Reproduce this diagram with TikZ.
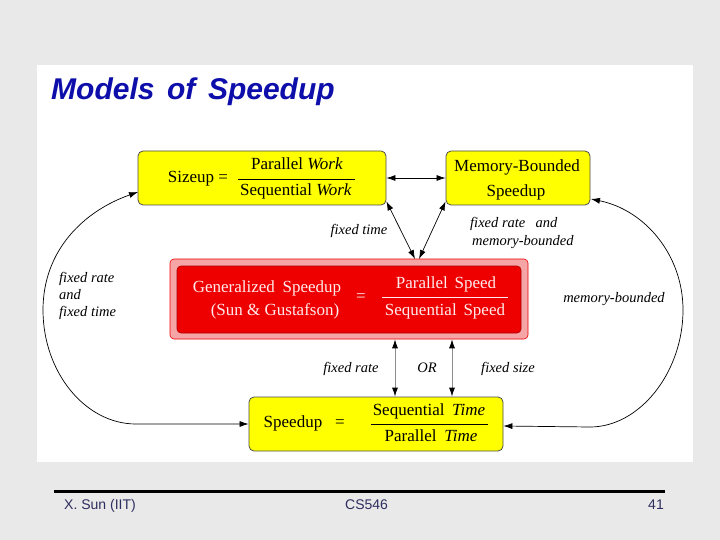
\documentclass[tikz,border=0pt]{standalone}
\usepackage{fontspec}
\setmainfont{Liberation Serif}
\setsansfont{Liberation Sans}
\usetikzlibrary{arrows.meta}
\definecolor{bgc}{RGB}{233,233,233}
\definecolor{ttl}{RGB}{14,14,170}
\definecolor{footc}{RGB}{45,45,95}
\definecolor{yel}{RGB}{255,255,0}
\definecolor{pinkr}{RGB}{245,165,165}
\definecolor{redr}{RGB}{238,0,0}
\definecolor{darkr}{RGB}{170,0,0}
\begin{document}
\begin{tikzpicture}[x=1pt,y=-1pt,
  ybox/.style={draw=black!70, fill=yel, rounded corners=5pt, line width=0.8pt, inner sep=0pt},
  txt/.style={font=\fontsize{17}{20}\selectfont, inner sep=0pt, text height=12pt, text depth=3.5pt},
  wtxt/.style={txt, text=white!92!red},
  lblfont/.style={font=\fontsize{14.5}{17}\selectfont\itshape, inner sep=0pt},
  lbl/.style={lblfont, text height=10pt, text depth=3pt},
  arr/.style={line width=0.7pt, {Latex[length=9pt,width=6pt]}-{Latex[length=9pt,width=6pt]}},
  garr/.style={line width=0.9pt, draw=black!45, {Latex[length=9pt,width=6pt,color=black]}-{Latex[length=9pt,width=6pt,color=black]}},
  fracline/.style={line width=0.8pt},
  foottxt/.style={font=\sffamily\fontsize{14}{16}\selectfont, text=footc, inner sep=0pt}
]
\useasboundingbox (0,0) rectangle (720,540);
\fill[bgc] (0,0) rectangle (720,540);
\fill[white] (37,65) rectangle (693,462);

% title
\node[anchor=base west, inner sep=0pt, text=ttl, font=\sffamily\bfseries\itshape\fontsize{30}{34}\selectfont] (title) at (51,100) {Models\hspace{0.42em}of\hspace{0.42em}Speedup};

% boxes
\node[ybox, minimum width=248pt, minimum height=54pt] (size) at (262,178) {};
\node[ybox, minimum width=144pt, minimum height=54pt] (mb) at (518,178) {};
\node[draw=redr, fill=pinkr, rounded corners=4pt, line width=0.6pt, minimum width=358pt, minimum height=80pt, inner sep=0pt] (red) at (349,299) {};
\node[draw=darkr, fill=redr, rounded corners=4pt, line width=0.6pt, minimum width=344pt, minimum height=67pt, inner sep=0pt] (redin) at (349,299.5) {};
\node[ybox, minimum width=254pt, minimum height=54pt] (sp) at (376,424) {};

% Sizeup text
\node[txt] (s1) at (198,178) {Sizeup =};
\node[txt] (s2) at (297,165) {Parallel \textit{Work}};
\node[txt] (s3) at (296,191) {Sequential \textit{Work}};
\draw[fracline] (238,179) -- (355,179);

% Memory-bounded text
\node[txt] (m1) at (517,167) {Memory-Bounded};
\node[txt] (m2) at (516,192) {Speedup};

% Generalized
\node[wtxt] (g1) at (267,288) {Generalized\hspace{0.45em}Speedup};
\node[wtxt] (g2) at (275,311) {(Sun \& Gustafson)};
\node[wtxt] (g3) at (361,297) {=};
\node[wtxt] (g4) at (446,284) {Parallel\hspace{0.4em}Speed};
\node[wtxt] (g5) at (445,311) {Sequential\hspace{0.4em}Speed};
\draw[fracline, white!92!red] (382,297) -- (508,297);

% Speedup text
\node[txt] (p1) at (293,423) {Speedup};
\node[txt] (p2) at (340,423) {=};
\node[txt] (p3) at (429,411) {Sequential\hspace{0.45em}\textit{Time}};
\node[txt] (p4) at (431,437) {Parallel\hspace{0.45em}\textit{Time}};
\draw[fracline] (371,424) -- (488,424);

% labels
\node[lblfont, anchor=west, align=left] (l1) at (59,296) {fixed rate\\and\\fixed time};
\node[lbl] (l2) at (614,299) {memory-bounded};
\node[lbl] (l3) at (359,231) {fixed time};
\node[lbl, anchor=west] (l4) at (470,224) {fixed rate\hspace{0.7em}and};
\node[lbl, anchor=west] (l5) at (472,242) {memory-bounded};
\node[lbl] (l6) at (351,369) {fixed rate};
\node[lbl] (l7) at (427,369) {OR};
\node[lbl] (l8) at (508,369) {fixed size};

% connectors
\draw[arr] (size) -- (mb);
\coordinate (c1) at (415,259);
\coordinate (c2) at (419,259);
\draw[arr] ([yshift=4pt]size.south east) -- (c1);
\draw[arr] ([yshift=4pt]mb.south west) -- (c2);
\coordinate (o1) at (395,0);
\coordinate (o2) at (452,0);
\draw[garr] (red.south -| o1) -- (sp.north -| o1);
\draw[garr] (red.south -| o2) -- (sp.north -| o2);

\coordinate (lb) at (136,424);
\coordinate (ll) at (43,310);
\coordinate (lt) at (138,192);
\draw[arr] (sp.west) -- (lb) .. controls (85,424) and (43,372) .. (ll) .. controls (43,250) and (84,211) .. (lt);

\coordinate (rb) at (590,427);
\coordinate (rr) at (683,310);
\coordinate (rt) at (591,199);
\draw[arr] ([yshift=-2pt]sp.east) -- (rb) .. controls (640,427) and (683,372) .. (rr) .. controls (683,255) and (645,210) .. (rt);

% footer
\draw[line width=3pt] (54,491) -- (665,491);
\node[foottxt, anchor=base west] (f1) at (64,509) {X. Sun (IIT)};
\node[foottxt, anchor=base west] (f2) at (345,509) {CS546};
\node[foottxt, anchor=base east] (f3) at (664,509) {41};
\end{tikzpicture}
\end{document}
